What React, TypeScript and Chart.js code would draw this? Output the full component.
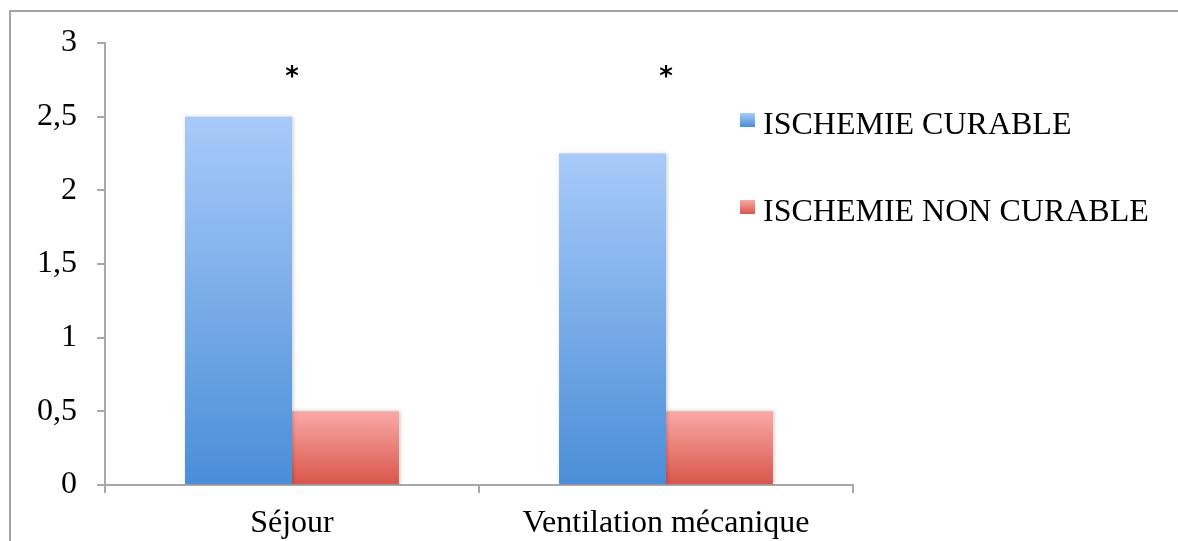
import React, { useEffect, useRef } from 'react';
import { Chart, registerables } from 'chart.js';

Chart.register(...registerables);

const categories = ['Séjour', 'Ventilation mécanique'];
const seriesNames = ['ISCHEMIE CURABLE', 'ISCHEMIE NON CURABLE'];
const curable = [2.5, 2.25];
const nonCurable = [0.5, 0.5];
const significance = ['*', '*'];
const significanceLevel = [2.8, 2.8];
const yMin = 0;
const yMax = 3;
const yStep = 0.5;

const blueTop = '#a9caf9';
const blueBottom = '#4a8ed8';
const redTop = '#f9aaa7';
const redBottom = '#d9554a';
const FONT = "'Liberation Serif', 'Times New Roman', serif";

function barGradient(c1: string, c2: string) {
  return (context: any) => {
    const chart = context.chart;
    const yScale = chart.scales?.y;
    if (!chart.chartArea || !yScale || context.raw == null) return c2;
    const top = yScale.getPixelForValue(context.raw);
    const bottom = yScale.getPixelForValue(0);
    const g = chart.ctx.createLinearGradient(0, top, 0, bottom);
    g.addColorStop(0, c1);
    g.addColorStop(1, c2);
    return g;
  };
}

const annotPlugin = {
  id: 'annot',
  beforeDatasetsDraw(chart: any) {
    const ctx = chart.ctx;
    ctx.save();
    ctx.shadowColor = 'rgba(0,0,0,0.22)';
    ctx.shadowBlur = 4;
    ctx.shadowOffsetX = 1;
    ctx.shadowOffsetY = 0;
  },
  afterDatasetsDraw(chart: any) {
    const ctx = chart.ctx;
    ctx.restore();
    const x = chart.scales.x;
    const y = chart.scales.y;
    ctx.save();
    ctx.fillStyle = '#000';
    ctx.font = "bold 26px 'DejaVu Sans', sans-serif";
    ctx.textAlign = 'center';
    ctx.textBaseline = 'middle';
    significance.forEach((s, i) => {
      ctx.fillText(s, x.getPixelForValue(i), y.getPixelForValue(significanceLevel[i]) + 6);
    });
    // legend
    const area = chart.chartArea;
    const lx = area.right - 113;
    const colors = [
      [blueTop, blueBottom],
      [redTop, redBottom],
    ];
    const rows = [area.top + 70, area.top + 157];
    seriesNames.forEach((name, i) => {
      const top = rows[i];
      const g = ctx.createLinearGradient(0, top, 0, top + 14);
      g.addColorStop(0, colors[i][0]);
      g.addColorStop(1, colors[i][1]);
      ctx.fillStyle = g;
      ctx.fillRect(lx, top, 15, 14);
      ctx.fillStyle = '#000';
      ctx.font = `32px ${FONT}`;
      ctx.textAlign = 'left';
      ctx.textBaseline = 'middle';
      ctx.fillText(name, lx + 23, top + 13);
    });
    ctx.restore();
  },
};

export default function App() {
  const canvasRef = useRef<HTMLCanvasElement | null>(null);

  useEffect(() => {
    document.body.style.margin = '0';
    const canvas = canvasRef.current;
    if (!canvas) return;
    const chart = new Chart(canvas, {
      type: 'bar',
      data: {
        labels: categories,
        datasets: [
          {
            label: seriesNames[0],
            data: curable,
            backgroundColor: barGradient(blueTop, blueBottom),
            borderWidth: 0,
          },
          {
            label: seriesNames[1],
            data: nonCurable,
            backgroundColor: barGradient(redTop, redBottom),
            borderWidth: 0,
          },
        ],
      },
      options: {
        animation: false,
        responsive: false,
        devicePixelRatio: 1,
        layout: { padding: { left: 0, top: 43, right: 325, bottom: 0 } },
        plugins: {
          legend: { display: false },
          tooltip: { enabled: false },
        },
        datasets: {
          bar: { categoryPercentage: 0.572, barPercentage: 1 },
        },
        scales: {
          x: {
            grid: {
              offset: true,
              drawOnChartArea: false,
              drawTicks: true,
              tickLength: 8,
              color: '#a8a8a8',
              lineWidth: 2,
            },
            border: { color: '#a8a8a8', width: 2 },
            ticks: {
              color: '#000',
              font: { family: FONT, size: 32 },
              padding: 11,
              maxRotation: 0,
            },
            afterFit: (scale: any) => {
              scale.height = 56;
            },
          },
          y: {
            min: yMin,
            max: yMax,
            grid: {
              drawOnChartArea: false,
              drawTicks: true,
              tickLength: 8,
              color: '#a8a8a8',
              lineWidth: 2,
            },
            border: { color: '#a8a8a8', width: 2 },
            ticks: {
              stepSize: yStep,
              color: '#000',
              font: { family: FONT, size: 32 },
              padding: 20,
              callback: (v: any) => String(v).replace('.', ','),
            },
            afterFit: (scale: any) => {
              scale.width = 105;
            },
          },
        },
      },
      plugins: [annotPlugin],
    });
    return () => chart.destroy();
  }, []);

  return (
    <div style={{ position: 'fixed', left: 0, top: 0, width: 1178, height: 541, background: '#fff', overflow: 'hidden' }}>
      <canvas ref={canvasRef} width={1178} height={541} style={{ display: 'block' }} />
      <div
        style={{
          position: 'absolute',
          left: 9,
          top: 10,
          right: -10,
          bottom: -10,
          borderLeft: '2px solid #a6a6a6',
          borderTop: '2px solid #a6a6a6',
          pointerEvents: 'none',
        }}
      />
    </div>
  );
}
